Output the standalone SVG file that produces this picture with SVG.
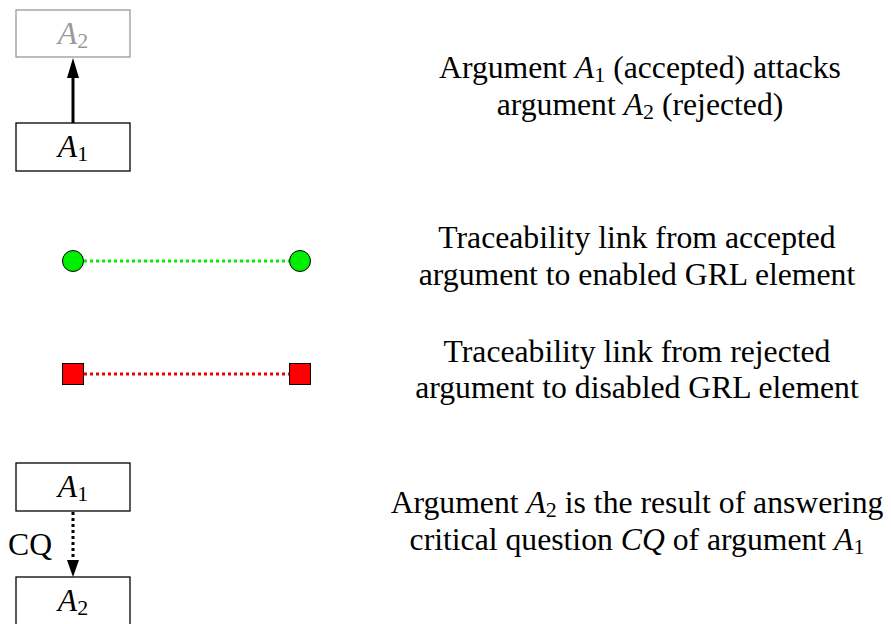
<svg xmlns="http://www.w3.org/2000/svg" width="891" height="624" viewBox="0 0 891 624">
<style>
text{font-family:"Liberation Serif","Times New Roman",serif;font-size:31.7px;fill:#000}
.it{font-style:italic}
.sub{font-size:22px;font-style:normal}
.box{fill:#fff;stroke:#000;stroke-width:1.3}
.gray{stroke:#999}
.gtext{fill:#999}
.cap{text-anchor:middle}
</style>
<rect width="891" height="624" fill="#fff"/>
<g id="connectors">
<line x1="73" y1="123" x2="73" y2="76" stroke="#000" stroke-width="3"/>
<polygon points="73,58 67,78 79,78" fill="#000"/>
<line x1="84" y1="261" x2="289" y2="261" stroke="#00ee00" stroke-width="3" stroke-dasharray="3,3"/>
<line x1="84" y1="374" x2="289" y2="374" stroke="#ee0000" stroke-width="3" stroke-dasharray="3,3"/>
<line x1="73" y1="512" x2="73" y2="561" stroke="#000" stroke-width="3" stroke-dasharray="3,3"/>
<polygon points="73,577 67,560 79,560" fill="#000"/>
</g>
<g id="n-a2-top">
<rect class="box gray" x="16" y="10" width="114" height="47"/>
<text x="73" y="44" class="cap gtext"><tspan class="it">A</tspan><tspan class="sub" dy="4">2</tspan></text>
</g>
<g id="n-a1-top">
<rect class="box" x="16" y="123" width="114" height="48"/>
<text x="73" y="157" class="cap"><tspan class="it">A</tspan><tspan class="sub" dy="4">1</tspan></text>
</g>
<g id="n-green-left"><circle cx="73" cy="261" r="10.5" fill="#00ee00" stroke="#000" stroke-width="1"/></g>
<g id="n-green-right"><circle cx="300" cy="261" r="10.5" fill="#00ee00" stroke="#000" stroke-width="1"/></g>
<g id="n-red-left"><rect x="62.5" y="363.5" width="21" height="21" fill="#ff0000" stroke="#000" stroke-width="1"/></g>
<g id="n-red-right"><rect x="289.5" y="363.5" width="21" height="21" fill="#ff0000" stroke="#000" stroke-width="1"/></g>
<g id="n-a1-bottom">
<rect class="box" x="16" y="463" width="114" height="48"/>
<text x="73" y="497" class="cap"><tspan class="it">A</tspan><tspan class="sub" dy="4">1</tspan></text>
</g>
<g id="n-a2-bottom">
<rect class="box" x="16" y="577" width="114" height="48"/>
<text x="73" y="611" class="cap"><tspan class="it">A</tspan><tspan class="sub" dy="4">2</tspan></text>
</g>
<text x="8" y="555">CQ</text>
<g id="legend">
<text x="640" y="78" class="cap">Argument <tspan class="it">A</tspan><tspan class="sub" dy="4">1</tspan><tspan dy="-4"> (accepted) attacks</tspan></text>
<text x="640" y="115" class="cap">argument <tspan class="it">A</tspan><tspan class="sub" dy="4">2</tspan><tspan dy="-4"> (rejected)</tspan></text>
<text x="637" y="248" class="cap">Traceability link from accepted</text>
<text x="637" y="285" class="cap">argument to enabled GRL element</text>
<text x="637" y="362" class="cap">Traceability link from rejected</text>
<text x="637" y="398" class="cap">argument to disabled GRL element</text>
<text x="637" y="513" class="cap">Argument <tspan class="it">A</tspan><tspan class="sub" dy="4">2</tspan><tspan dy="-4"> is the result of answering</tspan></text>
<text x="637" y="550" class="cap">critical question <tspan class="it">CQ</tspan> of argument <tspan class="it">A</tspan><tspan class="sub" dy="4">1</tspan></text>
</g>
</svg>
